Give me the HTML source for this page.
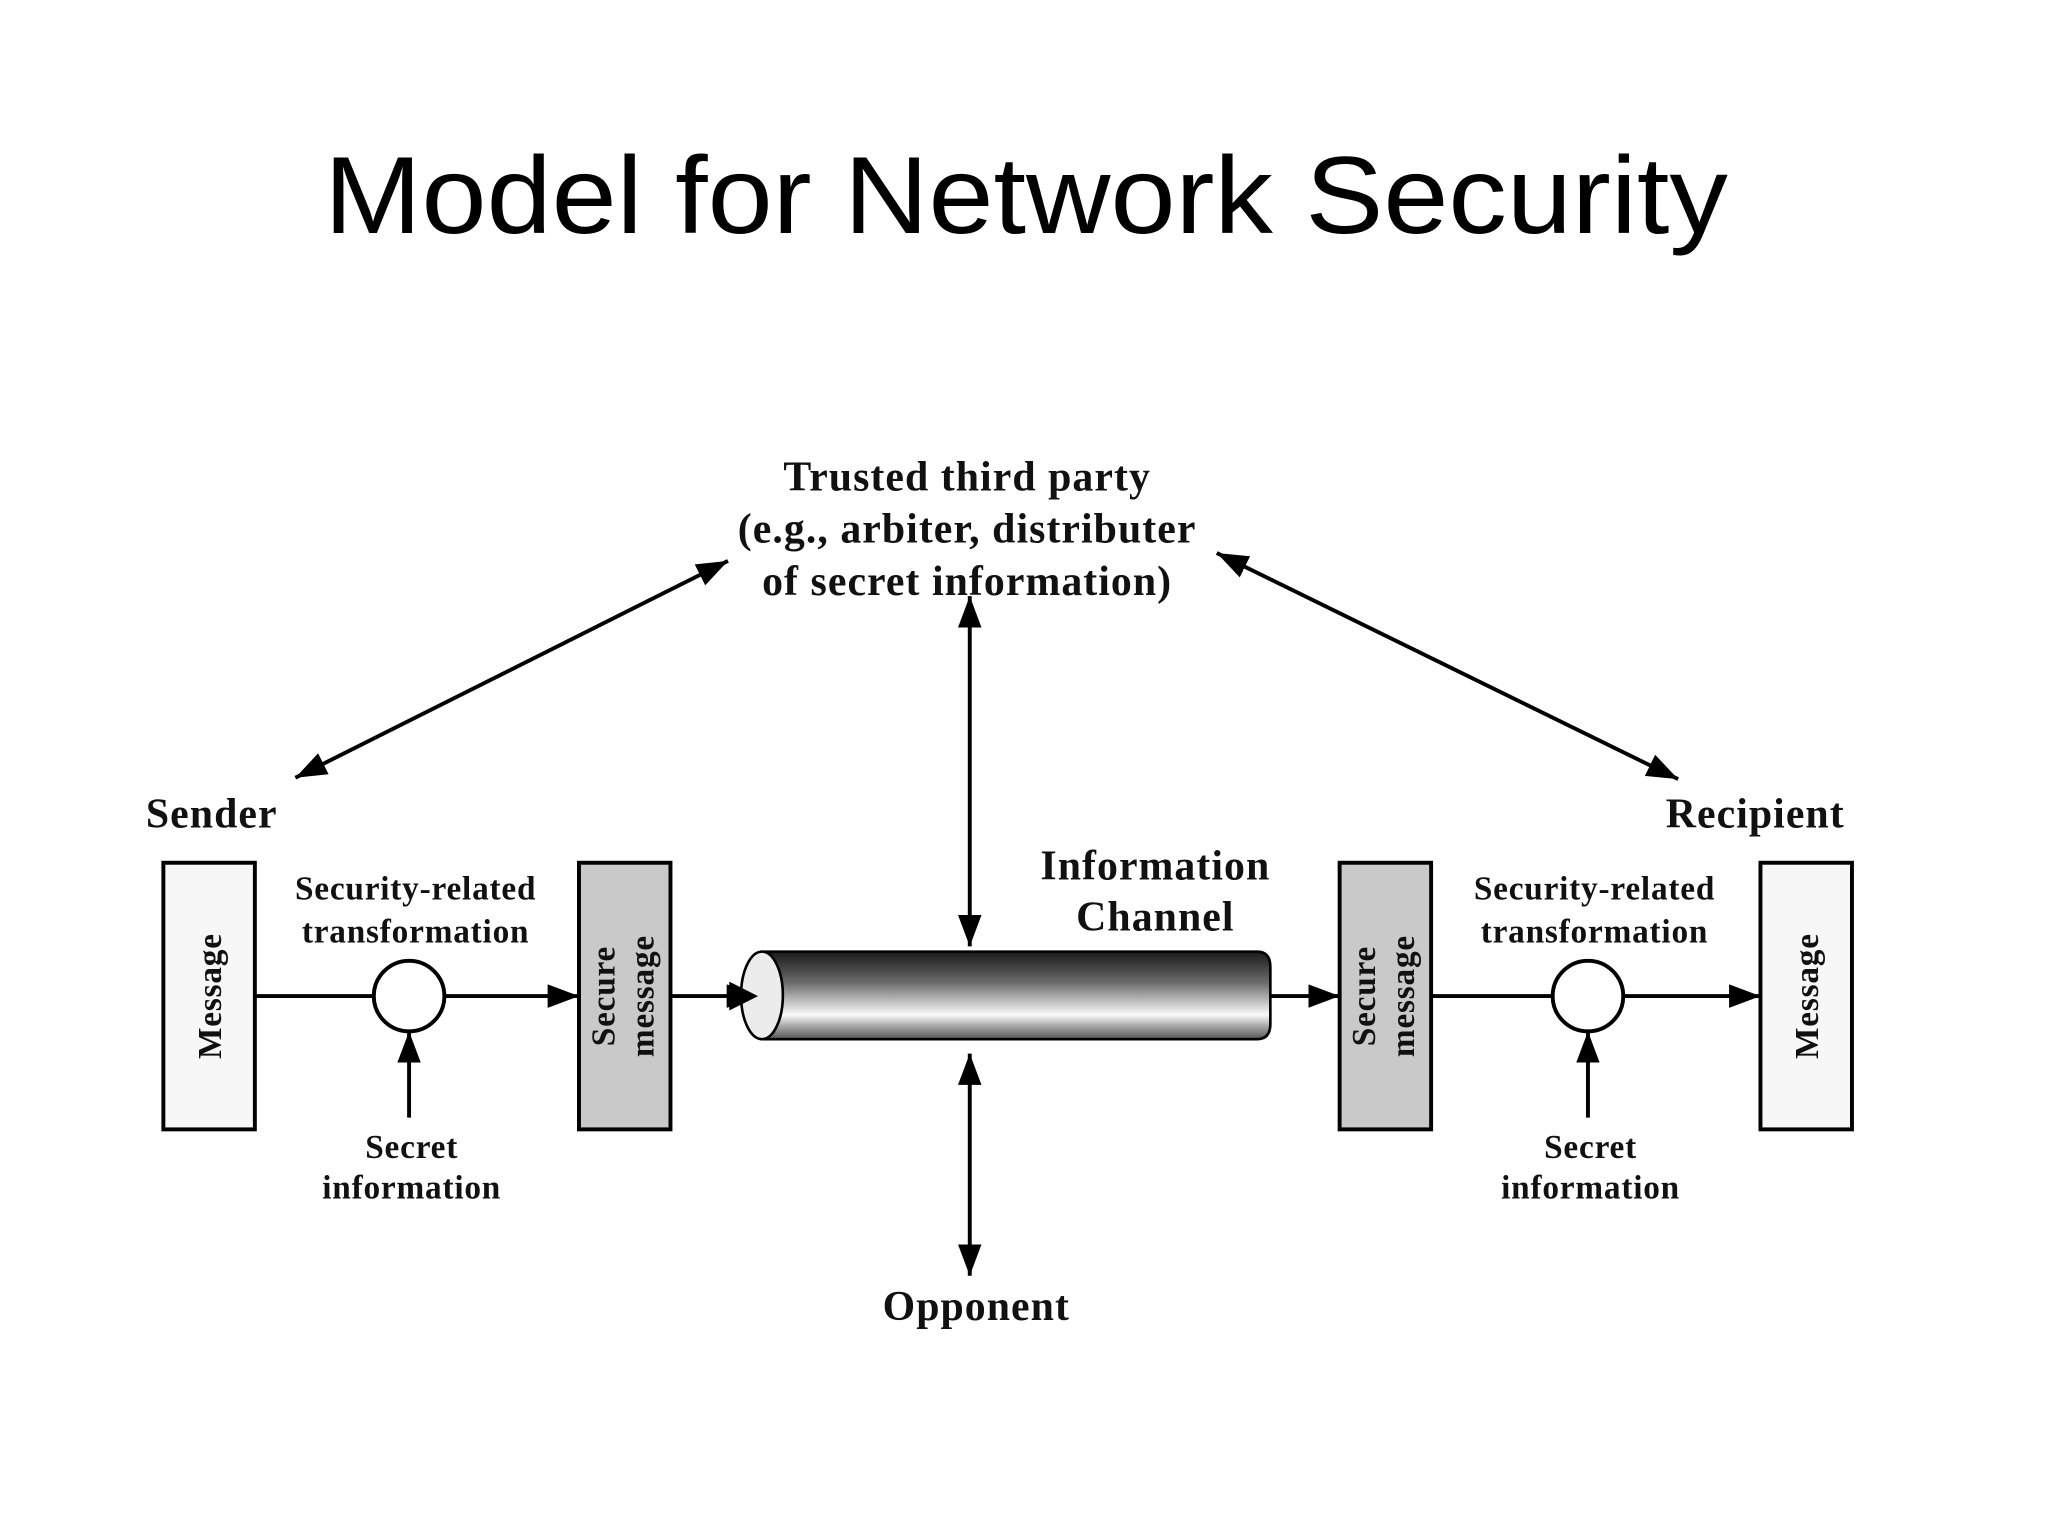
<!DOCTYPE html>
<html><head><meta charset="utf-8"><style>
html,body{margin:0;padding:0;background:#fff;}
svg{display:block;}
.s{font-family:"Liberation Serif",serif;font-weight:bold;fill:#111;}
</style></head><body>
<svg width="2048" height="1536" viewBox="0 0 1567 1175" xmlns="http://www.w3.org/2000/svg">
<defs>
<marker id="a" viewBox="0 0 24 18" refX="24" refY="9" markerWidth="24" markerHeight="18" orient="auto-start-reverse" markerUnits="userSpaceOnUse">
<path d="M0,0 L24,9 L0,18 z" fill="#000"/>
</marker>
<linearGradient id="g" x1="0" y1="0" x2="0" y2="1">
<stop offset="0" stop-color="#1a1a1a"/>
<stop offset="0.35" stop-color="#6a6a6a"/>
<stop offset="0.72" stop-color="#fafafa"/>
<stop offset="0.85" stop-color="#a8a8a8"/>
<stop offset="1" stop-color="#555"/>
</linearGradient>
</defs>
<text x="785" y="178" font-family="Liberation Sans, sans-serif" font-size="84" text-anchor="middle" textLength="1074" lengthAdjust="spacingAndGlyphs" fill="#000">Model for Network Security</text>

<g class="s" font-size="32" letter-spacing="0.8" text-anchor="middle">
<text x="740" y="375">Trusted third party</text>
<text x="740" y="415">(e.g., arbiter, distributer</text>
<text x="740" y="455">of secret information)</text>
<text x="162" y="633">Sender</text>
<text x="1343" y="633">Recipient</text>
<text x="884" y="673">Information</text>
<text x="884" y="712">Channel</text>
<text x="747" y="1010">Opponent</text>
</g>
<g class="s" font-size="25.5" letter-spacing="0.6" text-anchor="middle">
<text x="318" y="688">Security-related</text>
<text x="318" y="721">transformation</text>
<text x="1220" y="688">Security-related</text>
<text x="1220" y="721">transformation</text>
<text x="315" y="886">Secret</text>
<text x="315" y="917">information</text>
<text x="1217" y="886">Secret</text>
<text x="1217" y="917">information</text>
</g>

<g stroke="#000" stroke-width="3" fill="none">
<line x1="226" y1="595" x2="557" y2="429" marker-start="url(#a)" marker-end="url(#a)"/>
<line x1="931" y1="423" x2="1284" y2="596" marker-start="url(#a)" marker-end="url(#a)"/>
<line x1="742" y1="456" x2="742" y2="724" marker-start="url(#a)" marker-end="url(#a)"/>
<line x1="742" y1="806" x2="742" y2="976" marker-start="url(#a)" marker-end="url(#a)"/>
<line x1="195" y1="762" x2="286" y2="762"/>
<line x1="340" y1="762" x2="443" y2="762" marker-end="url(#a)"/>
<line x1="513" y1="762" x2="580" y2="762" marker-end="url(#a)"/>
<line x1="972" y1="762" x2="1025" y2="762" marker-end="url(#a)"/>
<line x1="1095" y1="762" x2="1188" y2="762"/>
<line x1="1242" y1="762" x2="1347" y2="762" marker-end="url(#a)"/>
<line x1="313" y1="855" x2="313" y2="789" marker-end="url(#a)"/>
<line x1="1215" y1="855" x2="1215" y2="789" marker-end="url(#a)"/>
</g>
<g stroke="#000" stroke-width="3">
<rect x="125" y="660" width="70" height="204" fill="#f7f7f7"/>
<rect x="443" y="660" width="70" height="204" fill="#c9c9c9"/>
<rect x="1025" y="660" width="70" height="204" fill="#c9c9c9"/>
<rect x="1347" y="660" width="70" height="204" fill="#f7f7f7"/>
<circle cx="313" cy="762" r="27" fill="#fff"/>
<circle cx="1215" cy="762" r="27" fill="#fff"/>
<path d="M583,728 L962,728 Q972,728 972,740 L972,783 Q972,795 962,795 L583,795 Z" fill="url(#g)" stroke-width="2"/>
<ellipse cx="583" cy="761.5" rx="16" ry="33.5" fill="#ececec" stroke-width="2"/>
</g>
<path d="M558,751 L580,762 L558,773 z" fill="#000"/>
<g class="s" font-size="25.5" letter-spacing="0.6" text-anchor="middle">
<text transform="translate(169,762) rotate(-90)">Message</text>
<text transform="translate(1391,762) rotate(-90)">Message</text>
<text transform="translate(470,762) rotate(-90)">Secure</text>
<text transform="translate(500,762) rotate(-90)">message</text>
<text transform="translate(1052,762) rotate(-90)">Secure</text>
<text transform="translate(1082,762) rotate(-90)">message</text>
</g>
</svg>
</body></html>
